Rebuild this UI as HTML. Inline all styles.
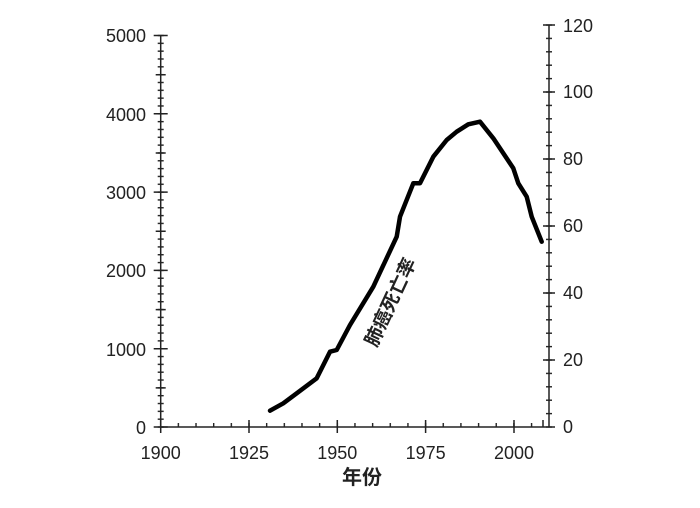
<!DOCTYPE html>
<html><head><meta charset="utf-8"><style>
html,body{margin:0;padding:0;background:#fff;}
svg text{font-family:"Liberation Sans","Noto Sans CJK SC",sans-serif;fill:#222;}
</style></head><body>
<svg width="700" height="503" viewBox="0 0 700 503" xmlns="http://www.w3.org/2000/svg">
<defs>
<pattern id="pl" patternUnits="userSpaceOnUse" x="0" y="426.3" width="700" height="7.83"><rect x="0" y="0" width="700" height="1.4" fill="#222"/></pattern>
<pattern id="pb" patternUnits="userSpaceOnUse" x="160" y="0" width="17.66" height="503"><rect x="0" y="0" width="1.4" height="503" fill="#222"/></pattern>
<pattern id="pr" patternUnits="userSpaceOnUse" x="0" y="426.3" width="700" height="13.4"><rect x="0" y="0" width="700" height="1.4" fill="#222"/></pattern>
</defs>
<rect x="157.7" y="34" width="6" height="394" fill="url(#pl)"/>
<rect x="160" y="423" width="384" height="4" fill="url(#pb)"/>
<rect x="546" y="24" width="6" height="404" fill="url(#pr)"/>
<g stroke="#222" stroke-width="1.5" fill="none">
<line x1="160.7" y1="35" x2="160.7" y2="427"/>
<line x1="160.7" y1="427" x2="543" y2="427"/>
<line x1="549" y1="25" x2="549" y2="427"/>
<path d="M153.7 427H167.7M153.7 348.7H167.7M153.7 270.4H167.7M153.7 192.1H167.7M153.7 113.8H167.7M153.7 35.5H167.7
M155.7 387.9H165.7M155.7 309.6H165.7M155.7 231.3H165.7M155.7 153H165.7M155.7 74.7H165.7
M160.7 420V433M249 420V433M337.3 420V433M425.6 420V433M514 420V433
M543 427V420
M543 427H555M543 360H555M543 293H555M543 226H555M543 159H555M543 92H555M543 25H555"/>
</g>
<g font-size="18" text-anchor="end">
<text x="146" y="434">0</text>
<text x="146" y="356">1000</text>
<text x="146" y="277">2000</text>
<text x="146" y="199">3000</text>
<text x="146" y="121">4000</text>
<text x="146" y="42">5000</text>
</g>
<g font-size="18" text-anchor="start">
<text x="563" y="433">0</text>
<text x="563" y="366">20</text>
<text x="563" y="299">40</text>
<text x="563" y="232">60</text>
<text x="563" y="165">80</text>
<text x="563" y="98">100</text>
<text x="563" y="32">120</text>
</g>
<g font-size="18" text-anchor="middle">
<text x="160.7" y="459">1900</text>
<text x="249" y="459">1925</text>
<text x="337.3" y="459">1950</text>
<text x="425.6" y="459">1975</text>
<text x="514" y="459">2000</text>
</g>
<text x="362" y="484" font-size="20" font-weight="bold" text-anchor="middle">年份</text>
<polyline fill="none" stroke="#000" stroke-width="4.5" stroke-linejoin="round" stroke-linecap="round"
points="270,410.7 283.3,403.3 296.7,393.3 316.7,378.3 330,351.7 336.7,350 350,325 373.3,286.7 396.7,236.7 400,216.7 413.3,183.3 420,183.3 433.3,156.7 446.7,140 456.7,131.7 468.3,124.3 480,121.7 493.3,138.3 513.3,168.3 518.3,183.3 526.7,196.7 531.7,216.7 541.7,241.7"/>
<text x="390" y="309" font-size="19" font-weight="bold" text-anchor="middle" transform="rotate(-65 390 302)">肺癌死亡率</text>
</svg>
</body></html>
